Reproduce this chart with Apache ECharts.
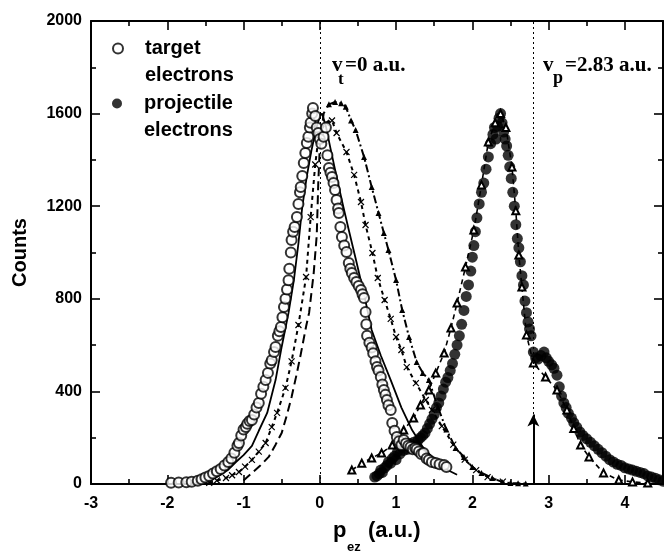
<!DOCTYPE html>
<html>
<head>
<meta charset="utf-8">
<script src="https://cdn.jsdelivr.net/npm/echarts@6/dist/echarts.min.js"></script>
<style>html,body{margin:0;padding:0;background:#fff}#c{width:664px;height:552px}</style>
</head>
<body>
<div id="c"></div>
<script>
// ---- axes ----
const xRange = [-3, 4.5];
const yRange = [0, 2000];
const xStep = 1, yStep = 400;
const vLines = [0, 2.8];        // vertical dotted lines (v_t, v_p)
const arrowPos = [2.8, 300];    // arrow at v_p

// ---- target electrons (open circles) ----
const targetX = [-1.95,-1.85,-1.75,-1.68,-1.6,-1.55,-1.5,-1.45,-1.4,-1.35,-1.3,-1.25,-1.2,-1.16,-1.12,-1.08,-1.06,-1.03,-1.0,-0.97,-0.95,-0.92,-0.89,-0.86,-0.83,-0.8,-0.77,-0.74,-0.71,-0.68,-0.65,-0.63,-0.6,-0.58,-0.55,-0.53,-0.51,-0.49,-0.47,-0.45,-0.43,-0.41,-0.4,-0.38,-0.37,-0.35,-0.33,-0.3,-0.28,-0.26,-0.25,-0.23,-0.21,-0.19,-0.17,-0.15,-0.13,-0.12,-0.1,-0.09,-0.06,-0.04,-0.02,0.0,0.02,0.05,0.08,0.1,0.12,0.14,0.16,0.18,0.2,0.22,0.24,0.25,0.27,0.29,0.32,0.35,0.38,0.4,0.42,0.45,0.48,0.51,0.54,0.56,0.58,0.6,0.61,0.62,0.65,0.68,0.7,0.73,0.75,0.77,0.8,0.82,0.84,0.86,0.88,0.9,0.93,0.95,0.98,1.01,1.04,1.07,1.1,1.13,1.16,1.19,1.22,1.25,1.27,1.3,1.33,1.36,1.4,1.43,1.47,1.52,1.57,1.63,1.66];
const targetY = [5,6,8,10,14,20,28,35,45,55,65,80,95,110,135,165,177,210,235,246,260,272,276,300,330,350,390,420,449,480,520,535,570,592,640,660,678,720,765,800,840,880,930,1000,1054,1090,1110,1153,1210,1260,1283,1330,1387,1430,1473,1500,1540,1560,1600,1624,1590,1540,1516,1490,1470,1500,1540,1420,1365,1345,1326,1300,1270,1227,1190,1171,1110,1067,1030,1002,955,930,911,890,873,855,838,820,803,743,690,640,610,590,565,530,505,490,462,430,406,385,363,340,320,263,230,203,185,168,190,175,165,160,150,155,150,140,130,134,110,104,95,91,85,82,73];

// ---- projectile electrons (filled circles) ----
const projX = [0.72,0.75,0.78,0.8,0.82,0.85,0.88,0.9,0.93,0.95,0.98,1.0,1.02,1.05,1.08,1.1,1.12,1.15,1.18,1.2,1.23,1.26,1.29,1.32,1.35,1.38,1.41,1.44,1.47,1.5,1.53,1.56,1.59,1.62,1.65,1.68,1.71,1.74,1.77,1.8,1.83,1.86,1.89,1.92,1.95,1.98,2.0,2.02,2.04,2.06,2.09,2.12,2.15,2.18,2.21,2.24,2.27,2.29,2.31,2.33,2.35,2.37,2.39,2.41,2.43,2.45,2.47,2.49,2.51,2.53,2.55,2.57,2.59,2.61,2.63,2.65,2.67,2.69,2.71,2.73,2.75,2.77,2.8,2.83,2.86,2.9,2.94,2.97,3.0,3.04,3.07,3.11,3.14,3.17,3.2,3.23,3.26,3.3,3.33,3.37,3.41,3.45,3.5,3.55,3.6,3.65,3.7,3.75,3.8,3.85,3.9,3.95,4.0,4.05,4.1,4.15,4.2,4.25,4.3,4.35,4.4,4.45,4.5];
const projY = [30,35,45,60,50,70,80,95,90,110,120,105,140,130,160,145,170,150,175,160,180,165,190,200,210,220,240,260,280,300,330,350,380,410,440,460,490,520,560,600,640,690,750,810,860,920,980,1030,1090,1150,1210,1260,1300,1360,1413,1470,1510,1540,1490,1545,1580,1600,1560,1520,1490,1460,1420,1370,1320,1260,1200,1120,1060,1020,960,900,860,790,740,700,670,640,570,545,540,555,570,545,530,515,500,470,420,380,350,330,305,285,265,245,225,210,195,180,165,150,135,120,105,95,85,80,70,65,60,55,50,45,35,30,25,18,12];

// ---- theory curve for target (solid) ----
const solidX = [-1.7,-1.6,-1.5,-1.41,-1.3,-1.2,-1.1,-1.0,-0.89,-0.8,-0.69,-0.58,-0.5,-0.41,-0.34,-0.28,-0.23,-0.17,-0.11,-0.05,0.0,0.03,0.08,0.14,0.21,0.3,0.38,0.48,0.58,0.68,0.8,0.93,1.07,1.21,1.35,1.5,1.65,1.8];
const solidY = [3,6,12,20,40,62,95,125,165,230,307,449,592,739,881,1040,1197,1330,1440,1530,1590,1600,1545,1450,1343,1210,1097,960,820,665,555,449,330,233,160,105,65,40];

// ---- theory curve (short dash, x markers) ----
const crossX = [-1.45,-1.35,-1.23,-1.15,-1.06,-0.98,-0.89,-0.8,-0.71,-0.63,-0.56,-0.45,-0.37,-0.28,-0.18,-0.12,-0.06,-0.01,0.08,0.16,0.22,0.35,0.45,0.54,0.6,0.69,0.76,0.85,0.93,1.0,1.07,1.14,1.26,1.39,1.47,1.6,1.75,1.9,2.05,2.2,2.4];
const crossY = [5,15,26,38,52,75,104,140,177,246,307,415,530,687,894,1153,1380,1516,1560,1570,1516,1434,1335,1218,1119,998,890,795,713,635,579,505,436,363,320,250,170,105,60,30,10];

// ---- theory curve: long-dash rise (left) and dashed fall with filled triangles (right) ----
const longDashX = [-1.0,-0.89,-0.78,-0.67,-0.58,-0.5,-0.43,-0.37,-0.3,-0.25,-0.18,-0.14,-0.08,-0.04,-0.02,0.0,0.05,0.12];
const longDashY = [15,48,80,117,170,220,300,376,480,560,680,740,911,1075,1300,1455,1600,1640];
const filledTriX = [0.12,0.2,0.28,0.34,0.41,0.47,0.58,0.68,0.77,0.84,0.9,1.0,1.08,1.17,1.27,1.35,1.43,1.55,1.66,1.78,1.89,2.0,2.12,2.26,2.39,2.5,2.6,2.7];
const filledTriY = [1640,1650,1645,1630,1570,1529,1413,1283,1171,1084,1011,881,752,635,527,480,449,330,235,156,117,73,48,26,9,4,3,2];

// ---- theory curve for projectile (dashed, open triangles) ----
const openTriX = [0.42,0.55,0.68,0.81,0.95,1.1,1.23,1.32,1.43,1.52,1.63,1.72,1.8,1.91,2.02,2.12,2.21,2.3,2.37,2.44,2.52,2.57,2.61,2.65,2.71,2.8,2.96,3.11,3.24,3.33,3.42,3.53,3.72,3.92,4.1,4.3];
const openTriY = [60,90,112,134,168,233,285,341,406,479,566,674,782,937,1097,1292,1477,1560,1600,1540,1369,1180,989,851,644,523,462,406,320,240,168,117,48,17,9,4];

const zip = (a, b) => a.map((v, i) => [v, b[i]]);
const SANS = '"Liberation Sans", Arial, sans-serif';
const SERIF = '"Liberation Serif", "Times New Roman", serif';

const chart = echarts.init(document.getElementById('c'), null, {renderer: 'canvas'});

function axis(extra) {
  return Object.assign({
    type: 'value',
    splitLine: {show: false},
    axisLine: {show: true, onZero: false, lineStyle: {color: '#000', width: 2}},
    axisTick: {show: true, inside: true, length: 9, lineStyle: {color: '#000', width: 1.6}},
    minorTick: {show: true, splitNumber: 2, length: 5, lineStyle: {color: '#000', width: 1.6}}
  }, extra);
}
function tickLabel(margin, hideMax) {
  return {show: true, color: '#000', fontFamily: SANS, fontWeight: 'bold', fontSize: 16, margin: margin,
    showMaxLabel: hideMax ? false : null, formatter: v => (Number.isInteger(v) ? String(v) : '')};
}
function legendItem(name, top) {
  return {
    data: [name], orient: 'vertical', left: 107, top: top,
    itemWidth: 12, itemHeight: 10, selectedMode: false,
    formatter: n => '\n' + n.replace(' ', '\n'),
    textStyle: {color: '#000', fontFamily: SANS, fontWeight: 'bold', fontSize: 20, lineHeight: 27, padding: [0, 0, 0, 16]}
  };
}
// text placed with title components (left / top of the text box, no padding)
function label(text, left, middle, size, family) {
  return {text: text, left: left, top: middle - size / 2, padding: 0,
    textStyle: {color: '#000', fontFamily: family, fontWeight: 'bold', fontSize: size, lineHeight: size}};
}

const option = {
  animation: false,
  backgroundColor: '#fff',
  grid: {left: 91, right: 1, top: 21, bottom: 68},
  title: [
    label('p', 333, 531, 22, SANS),
    label('ez', 347, 547, 13, SANS),
    label('(a.u.)', 368, 531, 22, SANS),
    label('v', 332, 66, 21, SERIF),
    label('t', 338, 80, 17, SERIF),
    label('=0 a.u.', 345, 66, 21, SERIF),
    label('v', 543, 66, 21, SERIF),
    label('p', 553, 78, 18, SERIF),
    label('=2.83 a.u.', 565, 66, 21, SERIF)
  ],
  xAxis: [
    axis({position: 'bottom', min: xRange[0], max: xRange[1], interval: xStep, axisLabel: tickLabel(12, true)}),
    axis({position: 'top', min: xRange[0], max: xRange[1], interval: xStep, axisLabel: {show: false}})
  ],
  yAxis: [
    axis({position: 'left', min: yRange[0], max: yRange[1], interval: yStep, axisLabel: tickLabel(9, false),
      name: 'Counts', nameLocation: 'middle', nameRotate: 90, nameGap: 61,
      nameTextStyle: {color: '#000', fontFamily: SANS, fontWeight: 'bold', fontSize: 20}}),
    axis({position: 'right', min: yRange[0], max: yRange[1], interval: yStep, axisLabel: {show: false}})
  ],
  legend: [legendItem('target electrons', 3), legendItem('projectile electrons', 58)],
  series: [
    {
      name: 'projectile electrons', type: 'scatter', data: zip(projX, projY),
      symbol: 'circle', symbolSize: 11, itemStyle: {color: '#000'}, z: 2,
      markLine: {
        silent: true, symbol: ['none', 'none'], label: {show: false},
        lineStyle: {color: '#000', type: [2, 3], width: 1},
        data: vLines.map(v => ({xAxis: v}))
      }
    },
    {
      name: 'solid', type: 'line', data: zip(solidX, solidY), showSymbol: false,
      lineStyle: {color: '#000', width: 1.8}, z: 3
    },
    {
      name: 'cross', type: 'line', data: zip(crossX, crossY),
      symbol: 'path://M0,0L10,10M10,0L0,10', symbolSize: 6, showSymbol: true,
      itemStyle: {color: 'none', borderColor: '#000', borderWidth: 1.2},
      lineStyle: {color: '#000', width: 2, type: [4, 4]}, z: 3
    },
    {
      name: 'longDash', type: 'line', data: zip(longDashX, longDashY), showSymbol: false,
      lineStyle: {color: '#000', width: 2, type: [9, 5]}, z: 3
    },
    {
      name: 'filledTri', type: 'line', data: zip(filledTriX, filledTriY),
      symbol: 'triangle', symbolSize: 6, showSymbol: true,
      itemStyle: {color: '#000'},
      lineStyle: {color: '#000', width: 2, type: [8, 3, 2, 3]}, z: 3
    },
    {
      name: 'openTri', type: 'line', data: zip(openTriX, openTriY),
      symbol: 'emptyTriangle', symbolSize: 7, showSymbol: true,
      itemStyle: {color: '#000', borderWidth: 1},
      lineStyle: {color: '#000', width: 1.6, type: [5, 4]}, z: 4,
      markLine: {
        silent: true, symbol: ['none', 'arrow'], symbolSize: [9, 12], label: {show: false},
        lineStyle: {color: '#000', type: 'solid', width: 2},
        data: [[{coord: [arrowPos[0], 0]}, {coord: [arrowPos[0], arrowPos[1]]}]]
      }
    },
    {
      name: 'target electrons', type: 'scatter', data: zip(targetX, targetY),
      symbol: 'emptyCircle', symbolSize: 10, itemStyle: {color: '#000', borderWidth: 1.6}, z: 5
    }
  ]
};
chart.setOption(option);
</script>
</body>
</html>
